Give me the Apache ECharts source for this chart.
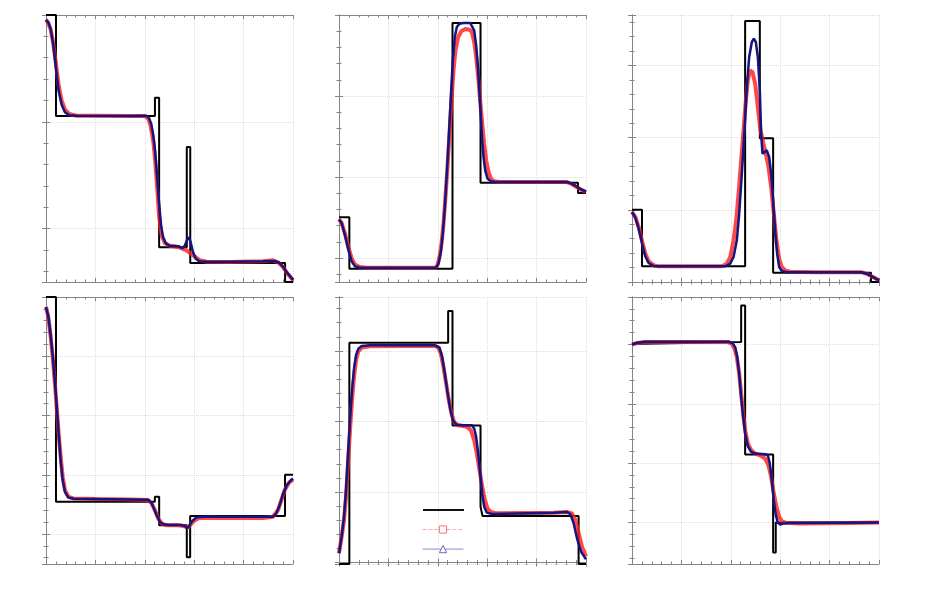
<!DOCTYPE html>
<html><head><meta charset="utf-8">
<script src="https://cdn.jsdelivr.net/npm/echarts@6/dist/echarts.min.js"></script>
<style>html,body{margin:0;padding:0;background:#fff}#c{width:925px;height:600px}</style>
</head><body><div id="c"></div>
<script>
// ---------- Panel 1 ----------
const p1Exact = [[0,3.0],[0.0404,3.0],[0.0404,2.054],[0.441,2.054],[0.441,2.226],[0.458,2.226],[0.458,0.825],[0.570,0.825],[0.570,1.764],[0.584,1.764],[0.584,0.678],[0.968,0.678],[0.968,0.5],[1.0,0.5]];
const p1Red = [[0,2.956],[0.0094,2.925],[0.0189,2.863],[0.0296,2.732],[0.0404,2.544],[0.0512,2.341],[0.0633,2.201],[0.0768,2.114],[0.0943,2.073],[0.124,2.057],[0.205,2.057],[0.340,2.054],[0.400,2.054],[0.414,2.029],[0.423,1.967],[0.434,1.826],[0.442,1.639],[0.450,1.390],[0.458,1.109],[0.468,0.937],[0.481,0.865],[0.501,0.840],[0.535,0.828],[0.569,0.797],[0.596,0.750],[0.623,0.703],[0.650,0.690],[0.744,0.687],[0.879,0.694],[0.919,0.703],[0.939,0.684],[0.960,0.640],[0.980,0.572],[1.0,0.516]];
const p1Blue = [[0,2.956],[0.0094,2.93],[0.0189,2.87],[0.0296,2.72],[0.0404,2.50],[0.0512,2.29],[0.0633,2.16],[0.0768,2.09],[0.0943,2.062],[0.124,2.057],[0.340,2.054],[0.400,2.056],[0.410,2.054],[0.418,2.03],[0.426,1.98],[0.434,1.88],[0.442,1.72],[0.450,1.48],[0.458,1.23],[0.466,1.03],[0.474,0.92],[0.485,0.862],[0.50,0.84],[0.535,0.835],[0.552,0.818],[0.562,0.84],[0.572,0.90],[0.578,0.92],[0.585,0.88],[0.595,0.78],[0.606,0.72],[0.62,0.695],[0.65,0.690],[0.744,0.690],[0.879,0.695],[0.925,0.697],[0.945,0.68],[0.96,0.64],[0.975,0.59],[0.99,0.55],[1.0,0.52]];

// ---------- Panel 2 ----------
const p2Exact = [[0,1.502],[0.0419,1.502],[0.0419,0.868],[0.4595,0.868],[0.4595,3.901],[0.573,3.901],[0.573,1.930],[0.9676,1.930],[0.9676,1.802],[1,1.802]];
const p2Red = [[0,1.477],[0.0108,1.432],[0.0243,1.30],[0.0378,1.136],[0.0514,0.992],[0.0649,0.918],[0.0851,0.889],[0.1122,0.881],[0.389,0.881],[0.3986,0.909],[0.4068,1.012],[0.4149,1.177],[0.4230,1.424],[0.4311,1.753],[0.4392,2.123],[0.4473,2.535],[0.4554,2.947],[0.4635,3.317],[0.4716,3.564],[0.4824,3.728],[0.4959,3.802],[0.5122,3.827],[0.5284,3.819],[0.5378,3.790],[0.5473,3.667],[0.5554,3.481],[0.5635,3.235],[0.5716,2.947],[0.5797,2.658],[0.5878,2.412],[0.5959,2.206],[0.6054,2.062],[0.6149,1.979],[0.6284,1.947],[0.6527,1.938],[0.9230,1.938],[0.9392,1.918],[0.9568,1.885],[0.9770,1.848],[1.0,1.815]];
const p2Blue = [[0,1.477],[0.0108,1.432],[0.0243,1.280],[0.0378,1.103],[0.0514,0.959],[0.0649,0.897],[0.0851,0.881],[0.3932,0.881],[0.4027,0.930],[0.4122,1.074],[0.4203,1.300],[0.4284,1.630],[0.4365,2.041],[0.4446,2.494],[0.4527,2.988],[0.4608,3.440],[0.4689,3.728],[0.4770,3.852],[0.4878,3.893],[0.5041,3.901],[0.5311,3.901],[0.5378,3.885],[0.5473,3.811],[0.5554,3.626],[0.5635,3.317],[0.5689,3.029],[0.5743,2.741],[0.5797,2.453],[0.5851,2.247],[0.5919,2.082],[0.6014,1.979],[0.6149,1.947],[0.6324,1.938],[0.9230,1.938],[0.9392,1.922],[0.9568,1.893],[0.9770,1.852],[1.0,1.819]];

// ---------- Panel 3 ----------
const p3Exact = [[0,1.0],[0.0404,1.0],[0.0404,0.217],[0.458,0.217],[0.458,3.617],[0.5175,3.617],[0.5175,1.991],[0.5714,1.991],[0.5714,0.129],[0.9677,0.129],[0.9677,0],[1,0]];
const p3Red = [[0,0.970],[0.0135,0.901],[0.0270,0.762],[0.0404,0.577],[0.0539,0.393],[0.0674,0.286],[0.0876,0.231],[0.1078,0.217],[0.3639,0.217],[0.3841,0.254],[0.3976,0.346],[0.4111,0.577],[0.4218,0.855],[0.4313,1.224],[0.4420,1.686],[0.4515,2.102],[0.4609,2.517],[0.4690,2.794],[0.4784,2.933],[0.4879,2.910],[0.4987,2.748],[0.5094,2.425],[0.5202,2.102],[0.5323,1.917],[0.5418,1.778],[0.5526,1.594],[0.5633,1.316],[0.5741,0.947],[0.5849,0.577],[0.5957,0.323],[0.6065,0.208],[0.6199,0.162],[0.6402,0.143],[0.7412,0.134],[0.9299,0.134],[0.9501,0.115],[0.9704,0.079],[1.0,0.023]];
const p3Blue = [[0,0.970],[0.0135,0.891],[0.0270,0.739],[0.0404,0.540],[0.0539,0.356],[0.0674,0.263],[0.0876,0.222],[0.1078,0.217],[0.3774,0.217],[0.3976,0.254],[0.4111,0.346],[0.4245,0.577],[0.4340,0.947],[0.4447,1.501],[0.4555,2.102],[0.4650,2.702],[0.4744,3.118],[0.4852,3.326],[0.4933,3.372],[0.5013,3.326],[0.5094,3.118],[0.5175,2.656],[0.5229,2.055],[0.5283,1.778],[0.5364,1.801],[0.5458,1.824],[0.5553,1.732],[0.5633,1.501],[0.5714,1.132],[0.5795,0.716],[0.5876,0.393],[0.5957,0.208],[0.6065,0.152],[0.6267,0.134],[0.9299,0.134],[0.9501,0.115],[0.9704,0.079],[1.0,0.023]];

// ---------- Panel 4 ----------
const p4Exact = [[0,5.0],[0.0404,5.0],[0.0404,1.545],[0.4407,1.545],[0.4407,1.629],[0.4582,1.629],[0.4582,1.146],[0.570,1.146],[0.570,0.607],[0.5836,0.607],[0.5836,1.303],[0.9677,1.303],[0.9677,2.0],[1,2.0]];
const p4Red = [[0,4.831],[0.0094,4.663],[0.0189,4.326],[0.0270,3.989],[0.0350,3.596],[0.0431,3.146],[0.0512,2.697],[0.0593,2.303],[0.0674,1.966],[0.0768,1.742],[0.0903,1.629],[0.1105,1.601],[0.2049,1.590],[0.3396,1.584],[0.4137,1.573],[0.4272,1.517],[0.4407,1.404],[0.4542,1.264],[0.4677,1.180],[0.4879,1.146],[0.5283,1.152],[0.5553,1.135],[0.5755,1.112],[0.5957,1.208],[0.6159,1.264],[0.6496,1.275],[0.7439,1.270],[0.8787,1.270],[0.9191,1.292],[0.9394,1.404],[0.9528,1.573],[0.9663,1.742],[0.9838,1.865],[1.0,1.921]];
const p4Blue = [[0,4.831],[0.0094,4.674],[0.0189,4.354],[0.0270,4.017],[0.0350,3.624],[0.0431,3.174],[0.0512,2.697],[0.0593,2.247],[0.0674,1.910],[0.0768,1.713],[0.0903,1.618],[0.1105,1.596],[0.4137,1.579],[0.4272,1.528],[0.4367,1.433],[0.4474,1.320],[0.4609,1.208],[0.4744,1.163],[0.5013,1.152],[0.5485,1.152],[0.5620,1.135],[0.5714,1.101],[0.5795,1.135],[0.5930,1.225],[0.6092,1.281],[0.6361,1.292],[0.9191,1.292],[0.9326,1.348],[0.9461,1.489],[0.9596,1.674],[0.9757,1.826],[0.9892,1.899],[1.0,1.938]];

// ---------- Panel 5 ----------
const p5Exact = [[0,-0.02],[0.0419,-0.02],[0.0419,3.118],[0.4419,3.118],[0.4419,3.566],[0.4595,3.566],[0.4595,1.943],[0.573,1.943],[0.573,0.792],[0.581,0.792],[0.581,0.660],[0.970,0.660],[0.970,-0.02],[1,-0.02]];
const p5Red = [[0,0.132],[0.0108,0.368],[0.0203,0.604],[0.0284,0.934],[0.0365,1.406],[0.0446,1.877],[0.0527,2.302],[0.0608,2.632],[0.0689,2.868],[0.0784,2.995],[0.0919,3.047],[0.1257,3.066],[0.2608,3.071],[0.3892,3.071],[0.4027,3.047],[0.4122,2.962],[0.4230,2.774],[0.4338,2.538],[0.4446,2.302],[0.4554,2.113],[0.4662,1.995],[0.4797,1.948],[0.4973,1.939],[0.5176,1.925],[0.5338,1.877],[0.5473,1.736],[0.5581,1.547],[0.5689,1.311],[0.5797,1.075],[0.5905,0.887],[0.6014,0.769],[0.6149,0.717],[0.6392,0.698],[0.8689,0.708],[0.9230,0.717],[0.9432,0.698],[0.9568,0.604],[0.9703,0.415],[0.9838,0.226],[1.0,0.085]];
const p5Blue = [[0,0.132],[0.0108,0.368],[0.0203,0.651],[0.0284,1.028],[0.0365,1.547],[0.0446,2.019],[0.0527,2.443],[0.0608,2.750],[0.0689,2.939],[0.0784,3.033],[0.0919,3.071],[0.1257,3.080],[0.3892,3.080],[0.4068,3.047],[0.4176,2.915],[0.4284,2.679],[0.4392,2.420],[0.4500,2.184],[0.4608,2.019],[0.4743,1.958],[0.4973,1.948],[0.5378,1.948],[0.5473,1.901],[0.5554,1.783],[0.5635,1.547],[0.5716,1.264],[0.5797,0.981],[0.5878,0.792],[0.5986,0.708],[0.6189,0.689],[0.8689,0.708],[0.9230,0.717],[0.9365,0.689],[0.9500,0.557],[0.9635,0.344],[0.9797,0.156],[1.0,0.047]];

// ---------- Panel 6 ----------
const p6Exact = [[0,4.012],[0.0404,4.012],[0.0404,4.040],[0.442,4.040],[0.442,4.657],[0.458,4.657],[0.458,2.144],[0.5714,2.144],[0.5714,0.495],[0.582,0.495],[0.582,1.0],[1,1.0]];
const p6Red = [[0,4.0],[0.0202,4.023],[0.0539,4.040],[0.3908,4.040],[0.4043,4.012],[0.4151,3.928],[0.4245,3.787],[0.4340,3.507],[0.4420,3.170],[0.4501,2.834],[0.4582,2.554],[0.4690,2.329],[0.4825,2.217],[0.4987,2.161],[0.5189,2.133],[0.5391,2.077],[0.5526,1.965],[0.5633,1.768],[0.5741,1.488],[0.5849,1.264],[0.5957,1.095],[0.6065,1.022],[0.6226,0.994],[0.6739,0.983],[0.8760,0.989],[1.0,1.0]];
const p6Blue = [[0,4.0],[0.0202,4.029],[0.0539,4.046],[0.3908,4.046],[0.4070,4.023],[0.4178,3.956],[0.4259,3.787],[0.4340,3.507],[0.4420,3.114],[0.4501,2.778],[0.4582,2.497],[0.4690,2.284],[0.4825,2.189],[0.4987,2.161],[0.5391,2.150],[0.5499,2.133],[0.5580,1.993],[0.5660,1.712],[0.5741,1.376],[0.5822,1.123],[0.5903,1.000],[0.5997,0.966],[0.6132,0.983],[0.6334,0.989],[1.0,1.0]];

// axis extents per panel (y), x is shared
const yRanges = [[0.5,3.0],[0.704,4.0],[0,3.70],[0.494,5.0],[-0.02,3.765],[0.3,4.8]];
const xRange = [0,1];
const seriesNames = ['Exact','Scheme A','Scheme B'];
const panels = [
  [p1Exact,p1Red,p1Blue],[p2Exact,p2Red,p2Blue],[p3Exact,p3Red,p3Blue],
  [p4Exact,p4Red,p4Blue],[p5Exact,p5Red,p5Blue],[p6Exact,p6Red,p6Blue]
];

const gridPos = [[46,15],[339,15],[632,15],[46,297],[339,297],[632,297]];
const AX = '#858585';

function axisCommon(show){
  return {
    axisLine:{show:true,lineStyle:{color:AX,width:1}},
    axisTick:{show:true,inside:true,length:4,lineStyle:{color:AX,width:1}},
    minorTick:{show:true,splitNumber:5,length:2.5,lineStyle:{color:AX,width:1}},
    axisLabel:{show:false},
    splitLine:{show:show,lineStyle:{color:'#dedede',type:'dotted',width:1}},
    minorSplitLine:{show:false}
  };
}

const grid=[], xAxis=[], yAxis=[], series=[];
panels.forEach((p,i)=>{
  grid.push({left:gridPos[i][0],top:gridPos[i][1],width:247,height:267,containLabel:false});
  ['bottom','top'].forEach((pos,k)=>{
    xAxis.push(Object.assign({type:'value',gridIndex:i,position:pos,min:xRange[0],max:xRange[1],
      minInterval:0.2,maxInterval:0.2,splitNumber:5},axisCommon(k===0)));
  });
  ['left','right'].forEach((pos,k)=>{
    yAxis.push(Object.assign({type:'value',gridIndex:i,position:pos,min:yRanges[i][0],max:yRanges[i][1],
      minInterval:1,maxInterval:1,splitNumber:4},axisCommon(k===0)));
  });
  const common = {type:'line',xAxisIndex:2*i,yAxisIndex:2*i,showSymbol:false,animation:false,
    emphasis:{disabled:true},silent:true};
  series.push(Object.assign({},common,{name:seriesNames[0],data:p[0],symbol:'line',
    itemStyle:{color:'#000'},lineStyle:{color:'#000',width:2},z:2}));
  series.push(Object.assign({},common,{name:seriesNames[1],data:p[1],symbol:'rect',
    itemStyle:{color:'#ff2020'},lineStyle:{color:'#ff2020',width:4,opacity:0.82},z:3}));
  series.push(Object.assign({},common,{name:seriesNames[2],data:p[2],symbol:'triangle',
    itemStyle:{color:'#141482'},lineStyle:{color:'#141482',width:2.5},z:4}));
});

// one legend per entry so that each row sits exactly where the reference has it
const legendItems = [
  {name:seriesNames[0],itemStyle:{color:'#000',borderWidth:0,opacity:0},lineStyle:{color:'#111',width:2,type:'solid'}},
  {name:seriesNames[1],itemStyle:{color:'#fff',borderColor:'#ff7070',borderWidth:1},lineStyle:{color:'#ff9a9a',width:1,type:'dashed'}},
  {name:seriesNames[2],itemStyle:{color:'#fff',borderColor:'#6a6ac0',borderWidth:1},lineStyle:{color:'#8c8cd0',width:1,type:'solid'}}
];
const legendTops = [509, 525.4, 545];
const legend = legendItems.map((it,k)=>({
  orient:'vertical',left:422,top:legendTops[k],padding:0,itemWidth:41,itemHeight:9,
  selectedMode:false,formatter:function(){return '';},textStyle:{fontSize:8,lineHeight:9},
  data:[it]
}));

const chart = echarts.init(document.getElementById('c'));
chart.setOption({
  animation:false,
  backgroundColor:'#fff',
  grid, xAxis, yAxis, series, legend
});
</script>
</body></html>
